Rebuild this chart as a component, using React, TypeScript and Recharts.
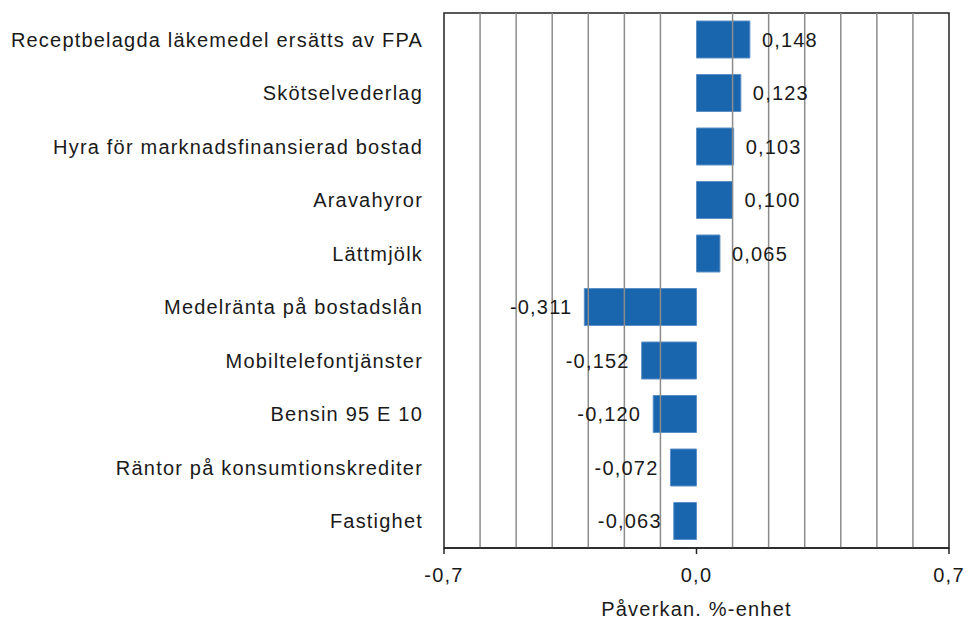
import React from 'react';
import { BarChart, Bar, XAxis, YAxis, ReferenceLine, ReferenceArea, LabelList } from 'recharts';

const categories = [
  'Receptbelagda läkemedel ersätts av FPA',
  'Skötselvederlag',
  'Hyra för marknadsfinansierad bostad',
  'Aravahyror',
  'Lättmjölk',
  'Medelränta på bostadslån',
  'Mobiltelefontjänster',
  'Bensin 95 E 10',
  'Räntor på konsumtionskrediter',
  'Fastighet',
];
const values = [0.148, 0.123, 0.103, 0.1, 0.065, -0.311, -0.152, -0.12, -0.072, -0.063];
const xTicks = [-0.7, 0, 0.7];
const gridValues = [-0.6, -0.5, -0.4, -0.3, -0.2, -0.1, 0.1, 0.2, 0.3, 0.4, 0.5, 0.6];
const axisTitle = 'Påverkan. %-enhet';

const data = categories.map((name, i) => ({ name, value: values[i] }));

const FONT = '"Liberation Sans", Arial, sans-serif';
const TEXT = '#1a1a1a';
const FS = 20;
const LS = 1.2;

const fmt = (v: number, d: number) => v.toFixed(d).replace('.', ',');

const ValueLabel = (props: any) => {
  const { x, y, width, height, value } = props;
  const v = Number(value);
  const left = Math.min(x, x + width);
  const right = Math.max(x, x + width);
  const cy = y + height / 2;
  if (v >= 0) {
    return (
      <text x={right + 12} y={cy} dy="0.35em" textAnchor="start" fill={TEXT} fontSize={FS} fontFamily={FONT} letterSpacing={LS}>
        {fmt(v, 3)}
      </text>
    );
  }
  return (
    <text x={left - 12} y={cy} dy="0.35em" textAnchor="end" fill={TEXT} fontSize={FS} fontFamily={FONT} letterSpacing={LS}>
      {fmt(v, 3)}
    </text>
  );
};

export default function App() {
  return (
    <div style={{ position: 'absolute', left: 0, top: 0, width: 966, height: 620, background: '#fff' }}>
      <BarChart
        width={966}
        height={620}
        data={data}
        layout="vertical"
        margin={{ top: 13, right: 17, bottom: 0, left: 0 }}
        barSize={37}
      >
        {gridValues.map((g) => (
          <ReferenceLine key={g} x={g} stroke="#8c8c8c" strokeWidth={1.5} />
        ))}
        <ReferenceArea x1={-0.7} x2={0.7} fill="none" stroke="#222" strokeWidth={1.5} />
        <XAxis
          type="number"
          domain={[-0.7, 0.7]}
          ticks={xTicks}
          tickFormatter={(v: number) => fmt(v, 1)}
          height={72}
          tickSize={6}
          tickMargin={14}
          axisLine={{ stroke: '#222', strokeWidth: 1.5 }}
          tickLine={{ stroke: '#222', strokeWidth: 1.5 }}
          tick={{ fill: TEXT, fontSize: FS, fontFamily: FONT, letterSpacing: LS }}
          interval={0}
          label={{ value: axisTitle, position: 'insideBottom', offset: 4, fill: TEXT, fontSize: FS, fontFamily: FONT, letterSpacing: LS }}
        />
        <YAxis
          type="category"
          dataKey="name"
          width={444}
          axisLine={false}
          tickLine={false}
          tickSize={0}
          tickMargin={21}
          interval={0}
          tick={{ fill: TEXT, fontSize: FS, fontFamily: FONT, letterSpacing: LS }}
        />
        <Bar dataKey="value" fill="#1a66ae" stroke="#5b8fc8" strokeWidth={1} isAnimationActive={false}>
          <LabelList dataKey="value" content={ValueLabel} />
        </Bar>
      </BarChart>
    </div>
  );
}
